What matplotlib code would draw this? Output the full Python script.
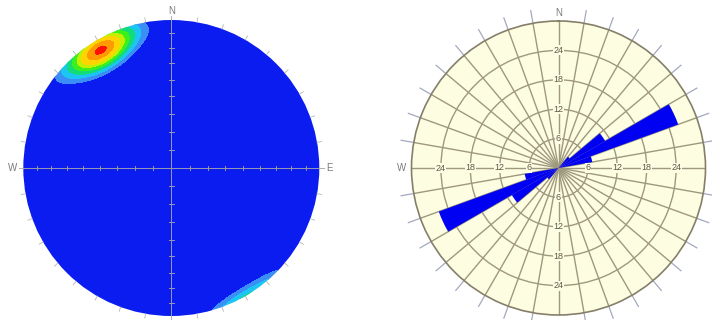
import numpy as np
import matplotlib
matplotlib.use("Agg")
import matplotlib.pyplot as plt
from matplotlib.patches import Circle

plt.rcParams["font.family"] = ["Liberation Sans", "DejaVu Sans"]

# poles to joints (trend, plunge in degrees); negative plunge = just above horizon
pole_trend = [323, 326, 329, 332, 335, 326, 329, 332, 329, 329, 316, 342,
              140, 147, 152, 158]
pole_plunge = [8, 8, 8, 8, 8, 7, 7, 7, 9, 10, 3, 4,
               -6, -5, -5, -7]

# rose diagram of strikes, 10 degree bins (bidirectional)
bin_start = [0, 10, 20, 30, 40, 50, 60, 70, 80, 90, 100, 110, 120, 130, 140, 150, 160, 170]
bin_count = [0, 0, 0, 0, 3, 11, 26, 7, 0, 0, 0, 0, 0, 0, 0, 0, 0, 0]
ring_values = [6, 12, 18, 24]
cardinal_angles = [0, 90, 180, 270]

density_levels = [0, 0.06, 0.12, 0.2, 0.3, 0.42, 0.55, 0.75, 0.95, 1.01]
density_colors = ["#0a1cf0", "#3c8ef7", "#1cc6f2", "#12dc7a", "#3cf01e",
                  "#c2f000", "#ffd400", "#ff9a00", "#ff1000"]

fig = plt.figure(figsize=(7.12, 3.2), dpi=100)

# ---------- stereonet density plot (equal area, lower hemisphere)
R_PX = 148.0
ax = fig.add_axes([0, 0, 0.5, 1])
ax.set_xlim(-171.3 / R_PX, (356 - 171.3) / R_PX)
ax.set_ylim(-152 / R_PX, 168 / R_PX)
ax.axis("off")

g = np.linspace(-1.02, 1.02, 500)
xx, yy = np.meshgrid(g, g)
rr = np.clip(np.hypot(xx, yy), 0, 1)
theta = 2 * np.arcsin(rr / np.sqrt(2))          # angle from vertical
plunge = np.pi / 2 - theta
trend = np.arctan2(xx, yy)
grid_vec = np.stack([np.cos(plunge) * np.cos(trend),
                     np.cos(plunge) * np.sin(trend),
                     np.sin(plunge)])

tr = np.radians(pole_trend)
pl = np.radians(pole_plunge)
pole_vec = np.stack([np.cos(pl) * np.cos(tr), np.cos(pl) * np.sin(tr), np.sin(pl)])

k = 75.0
dens = np.zeros_like(xx)
for i in range(pole_vec.shape[1]):
    dot = np.tensordot(pole_vec[:, i], grid_vec, axes=1)
    dens += np.exp(k * (dot - 1))
dens /= dens.max()

cs = ax.contourf(xx, yy, dens, levels=density_levels, colors=density_colors)
clip = Circle((0, 0), 1.0, transform=ax.transData)
cs.set_clip_path(clip)

# crosshair with dip ticks
line_col = "#9a98b0"
ax.plot([-1.03, 1.03], [0, 0], color=line_col, lw=0.7)
ax.plot([0, 0], [-1.03, 1.03], color=line_col, lw=0.7)
for d in range(10, 90, 10):
    p = np.sqrt(2) * np.sin(np.radians(d / 2))
    for s in (-1, 1):
        ax.plot([s * p, s * p], [-0.016, 0.016], color=line_col, lw=0.7)
        ax.plot([-0.016, 0.016], [s * p, s * p], color=line_col, lw=0.7)

# perimeter ticks
for az in range(0, 360, 10):
    a = np.radians(az)
    ax.plot([np.sin(a), 1.03 * np.sin(a)], [np.cos(a), 1.03 * np.cos(a)],
            color="#b4b4b4", lw=0.6)

lab_col = "#7a7a7a"
ax.text(0, 1.06, "N", ha="center", va="center", fontsize=7, color=lab_col)
ax.text(-1.07, 0, "W", ha="center", va="center", fontsize=7, color=lab_col)
ax.text(1.066, 0, "E", ha="center", va="center", fontsize=7, color=lab_col)

# ---------- rose diagram
bg = "#fdfde2"
grid_col = "#9e987f"
ax2 = fig.add_axes([(558.5 - 147) / 712, (320 - 168 - 147) / 320, 294 / 712, 294 / 320],
                   projection="polar")
ax2.set_theta_zero_location("N")
ax2.set_theta_direction(-1)
ax2.set_facecolor(bg)
ax2.set_ylim(0, 30)
ax2.set_thetagrids(range(0, 360, 10), labels=[])
ax2.set_rgrids(ring_values, labels=[])
ax2.grid(True, color=grid_col, lw=1.0)
ax2.spines["polar"].set_color("#857f6a")
ax2.spines["polar"].set_linewidth(1.2)
ax2.set_axisbelow(True)

centers = np.radians(np.array(bin_start) + 5)
width = np.radians(10)
ax2.bar(centers, bin_count, width=width, bottom=0, color="#0000f2", edgecolor="none", zorder=3)
ax2.bar(centers + np.pi, bin_count, width=width, bottom=0, color="#0000f2", edgecolor="none", zorder=3)

# outer ticks
for az in range(0, 360, 10):
    if az in cardinal_angles:
        continue
    a = np.radians(az)
    ax2.plot([a, a], [30, 32.6], color="#a3a9bf", lw=0.9, clip_on=False)

# ring labels on the four axes
for ang in cardinal_angles:
    for v in ring_values:
        ax2.text(np.radians(ang), v, str(v), ha="center", va="center", fontsize=6.5,
                 color="#5e5a4c", zorder=4,
                 bbox=dict(facecolor=bg, edgecolor="none", pad=0.3))

ax2.text(0, 31.7, "N", ha="center", va="center", fontsize=7, color=lab_col, clip_on=False)
ax2.text(np.radians(270), 32.0, "W", ha="center", va="center", fontsize=7, color=lab_col,
         clip_on=False)

fig.savefig("out.png", dpi=100)
